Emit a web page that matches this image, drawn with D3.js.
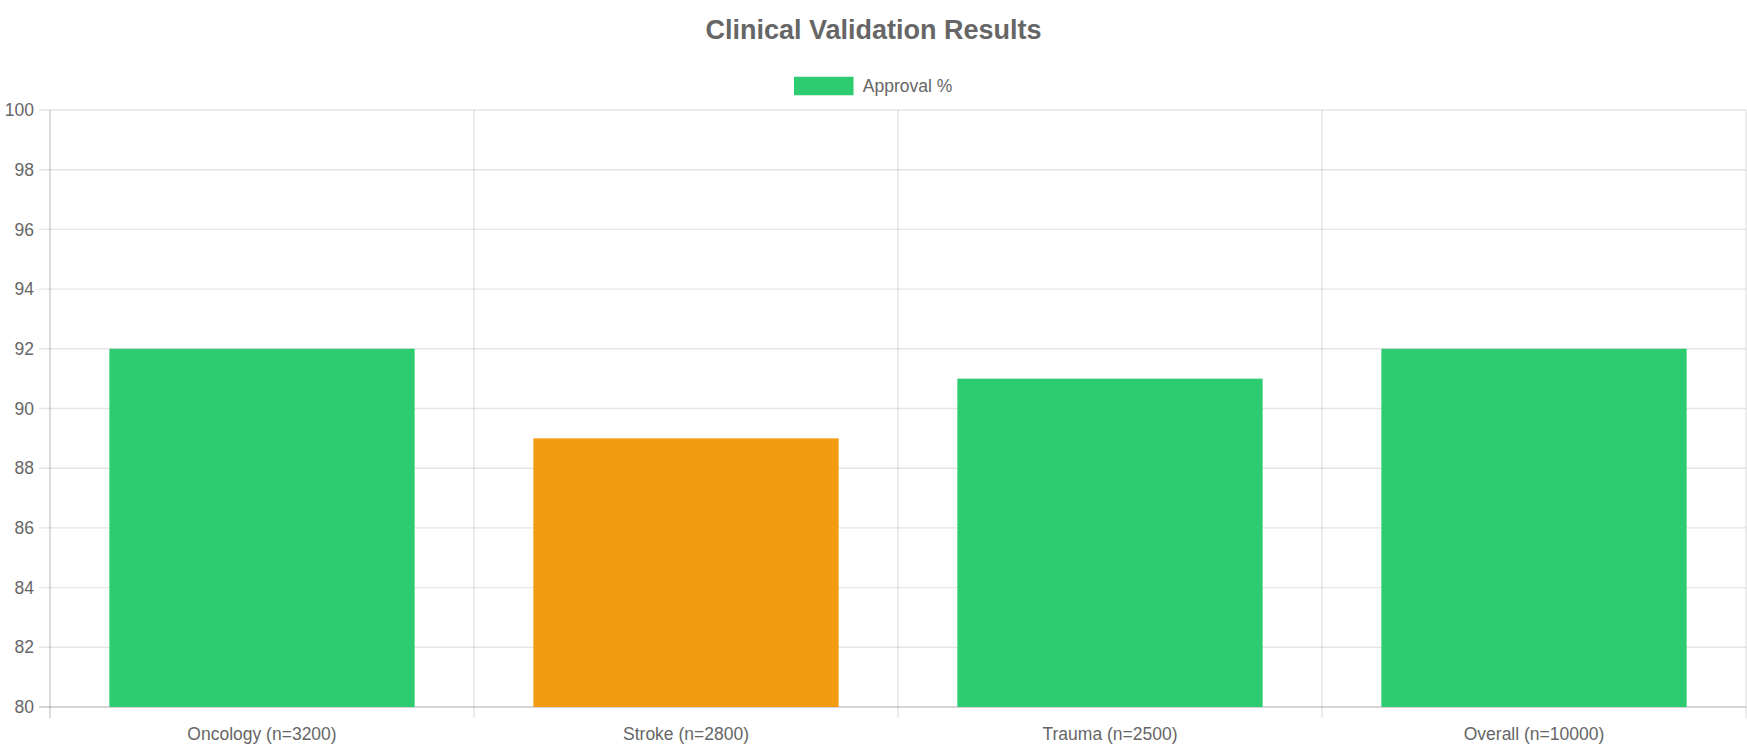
<!DOCTYPE html>
<html>
<head>
<meta charset="utf-8">
<script src="https://cdn.jsdelivr.net/npm/d3@7"></script>
<style>
  body { margin: 0; background: #fff; }
  svg text { font-family: "Liberation Sans", Arial, Helvetica, sans-serif; fill: #666; }
</style>
</head>
<body>
<div id="chart"></div>
<script>
var categories = ["Oncology (n=3200)", "Stroke (n=2800)", "Trauma (n=2500)", "Overall (n=10000)"];
var approval = [92, 89, 91, 92];
var barColors = ["#2ecc71", "#f39c12", "#2ecc71", "#2ecc71"];
var yTicks = [80, 82, 84, 86, 88, 90, 92, 94, 96, 98, 100];
var seriesName = "Approval %";
var chartTitle = "Clinical Validation Results";

var W = 1747, H = 750;
var margin = {top: 110, right: 1, bottom: 43, left: 50},
  width = W - margin.left - margin.right,
  height = H - margin.top - margin.bottom;

var svg = d3.select("#chart")
  .append("svg")
  .attr("width", W)
  .attr("height", H);

// title
svg.append("text")
  .attr("x", W / 2)
  .attr("y", 30)
  .attr("text-anchor", "middle")
  .attr("dominant-baseline", "central")
  .style("font-size", "27px")
  .style("font-weight", "bold")
  .text(chartTitle);

// legend
var legend = svg.append("g").attr("transform", "translate(" + (W / 2) + ",86)");
var legendText = legend.append("text")
  .attr("dominant-baseline", "central")
  .style("font-size", "17.5px")
  .text(seriesName);
var tw = legendText.node().getComputedTextLength();
var lw = 58 + 10 + tw;
legend.insert("rect", "text")
  .attr("x", -lw / 2)
  .attr("y", -8.5)
  .attr("width", 58)
  .attr("height", 17)
  .attr("fill", barColors[0])
  .attr("stroke", "#2ecc71")
  .attr("stroke-width", 1.5);
legendText.attr("x", -lw / 2 + 68);

var g = svg.append("g")
  .attr("transform", "translate(" + margin.left + "," + margin.top + ")");

var x = d3.scaleBand()
  .domain(categories)
  .range([0, width])
  .padding(0);

var y = d3.scaleLinear()
  .domain([80, 100])
  .range([height, 0]);

// horizontal grid
g.append("g")
  .selectAll("line")
  .data(yTicks)
  .enter()
  .append("line")
    .attr("x1", -11)
    .attr("x2", width)
    .attr("y1", function(d) { return y(d); })
    .attr("y2", function(d) { return y(d); })
    .style("stroke", function(d) { return d === 80 ? "rgba(0,0,0,0.22)" : "rgba(0,0,0,0.1)"; })
    .style("stroke-width", 1.4);

// vertical grid at category edges
var edges = categories.map(function(c) { return x(c); }).concat([width]);
g.append("g")
  .selectAll("line")
  .data(edges)
  .enter()
  .append("line")
    .attr("x1", function(d) { return d; })
    .attr("x2", function(d) { return d; })
    .attr("y1", 0)
    .attr("y2", height + 11)
    .style("stroke", function(d, i) { return i === 0 ? "rgba(0,0,0,0.2)" : "rgba(0,0,0,0.1)"; })
    .style("stroke-width", 1.4);

// y axis labels
var yAxis = g.append("g")
  .call(d3.axisLeft(y).tickValues(yTicks).tickSize(11).tickPadding(5));
yAxis.select(".domain").remove();
yAxis.selectAll(".tick line").remove();
yAxis.selectAll("text")
  .style("font-size", "17.5px")
  .style("font-family", "'Liberation Sans', Arial, sans-serif")
  .attr("fill", "#666");

// x axis labels
var xAxis = g.append("g")
  .attr("transform", "translate(0," + height + ")")
  .call(d3.axisBottom(x).tickSize(0).tickPadding(21));
xAxis.select(".domain").remove();
xAxis.selectAll("text")
  .style("font-size", "17.5px")
  .style("font-family", "'Liberation Sans', Arial, sans-serif")
  .attr("fill", "#666");

// bars
var bw = x.bandwidth() * 0.72;
g.selectAll(".bar")
  .data(approval)
  .enter()
  .append("rect")
    .attr("class", "bar")
    .attr("x", function(d, i) { return x(categories[i]) + (x.bandwidth() - bw) / 2; })
    .attr("y", function(d) { return y(d); })
    .attr("width", bw)
    .attr("height", function(d) { return height - y(d); })
    .style("fill", function(d, i) { return barColors[i]; });
</script>
</body>
</html>
